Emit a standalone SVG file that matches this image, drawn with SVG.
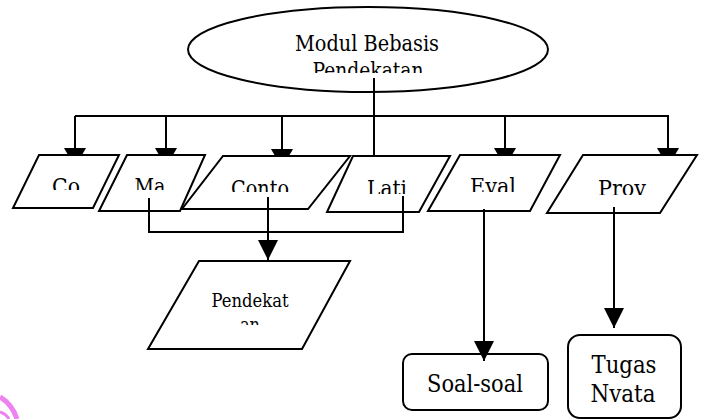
<svg xmlns="http://www.w3.org/2000/svg" width="705" height="419" viewBox="0 0 705 419">
<style>
.shape{fill:#fff;stroke:#000;stroke-width:2}
.t{font-family:'DejaVu Serif','Liberation Serif','Times New Roman',serif;fill:#000;text-anchor:middle}
.m{font-size:22px}
.c{fill:none;stroke:#000;stroke-width:2}
</style>
<defs>
<marker id="arr" markerUnits="userSpaceOnUse" markerWidth="22" markerHeight="22" viewBox="0 -11 21 22" refX="20" refY="0" orient="auto">
<path d="M0,-10 L20,0 L0,10 z" fill="#000"/>
</marker>
<marker id="cut" markerUnits="userSpaceOnUse" markerWidth="10" markerHeight="24" viewBox="0 -12 8 24" refX="7" refY="0" orient="auto">
<path d="M0,-11 L7,-7 L7,7 L0,11 z" fill="#000"/>
</marker>
<clipPath id="k0"><rect x="180" y="0" width="380" height="73"/></clipPath>
<clipPath id="k1"><rect x="0" y="150" width="705" height="40"/></clipPath>
<clipPath id="k2"><rect x="0" y="150" width="705" height="42"/></clipPath>
<clipPath id="k3"><rect x="0" y="150" width="705" height="44"/></clipPath>
<clipPath id="k4"><rect x="0" y="150" width="705" height="45"/></clipPath>
<clipPath id="k5"><rect x="140" y="260" width="220" height="65"/></clipPath>
</defs>

<path d="M0,397 Q12,404 17,419" fill="none" stroke="#ee82ee" stroke-width="5"/>
<path d="M0,412 Q6,414 9,419" fill="none" stroke="#ee82ee" stroke-width="3"/>

<g id="modul">
<ellipse class="shape" cx="368" cy="49.5" rx="180" ry="42.5"/>
<g clip-path="url(#k0)">
<text class="t m" x="367" y="51" textLength="144" lengthAdjust="spacingAndGlyphs">Modul Bebasis</text>
<text class="t m" x="368" y="78" textLength="111" lengthAdjust="spacingAndGlyphs">Pendekatan</text>
</g>
</g>

<g id="co">
<polygon class="shape" points="39,155 119,155 93,208 13,208"/>
<text class="t m" x="66" y="194" textLength="28" lengthAdjust="spacingAndGlyphs" clip-path="url(#k1)">Co</text>
</g>
<g id="ma">
<polygon class="shape" points="127,155 205,155 180,211 99,211"/>
<text class="t m" x="150" y="194" textLength="31" lengthAdjust="spacingAndGlyphs" clip-path="url(#k1)">Ma</text>
</g>
<g id="conto">
<polygon class="shape" points="223,156 350,156 308,209 182,209"/>
<text class="t m" x="260" y="196" textLength="58" lengthAdjust="spacingAndGlyphs" clip-path="url(#k2)">Conto</text>
</g>
<g id="lati">
<polygon class="shape" points="353,156 450,156 419,212 327,212"/>
<text class="t m" x="387" y="196" textLength="40" lengthAdjust="spacingAndGlyphs" clip-path="url(#k3)">Lati</text>
</g>
<g id="eval">
<polygon class="shape" points="460,155 560,155 530,211 428,211"/>
<text class="t m" x="493" y="194" textLength="46" lengthAdjust="spacingAndGlyphs" clip-path="url(#k2)">Eval</text>
</g>
<g id="prov">
<polygon class="shape" points="583,155 697,155 660,213 547,213"/>
<text class="t m" x="622" y="196" textLength="48" lengthAdjust="spacingAndGlyphs" clip-path="url(#k4)">Prov</text>
</g>
<g id="pendekatan">
<polygon class="shape" points="199,261 350,261 302,349 148,349"/>
<g clip-path="url(#k5)">
<text class="t" font-size="18.5" x="250" y="307" textLength="77" lengthAdjust="spacingAndGlyphs">Pendekat</text>
<text class="t" font-size="18.5" x="250" y="331" textLength="20" lengthAdjust="spacingAndGlyphs">an</text>
</g>
</g>
<g id="soal">
<rect class="shape" x="403" y="354" width="145" height="56" rx="9"/>
<text class="t" font-size="24.5" x="475" y="392" textLength="96" lengthAdjust="spacingAndGlyphs">Soal-soal</text>
</g>
<g id="tugas">
<rect class="shape" x="568" y="335" width="113" height="83" rx="12"/>
<text class="t" font-size="24.5" x="624" y="373" textLength="65" lengthAdjust="spacingAndGlyphs">Tugas</text>
<text class="t" font-size="24.5" x="623" y="402" textLength="65" lengthAdjust="spacingAndGlyphs">Nvata</text>
</g>

<g id="connectors">
<path class="c" d="M374,78 V155"/>
<path class="c" d="M75,116 H669"/>
<path class="c" d="M75,116 V155" marker-end="url(#cut)"/>
<path class="c" d="M166,116 V155" marker-end="url(#cut)"/>
<path class="c" d="M282,116 V156" marker-end="url(#cut)"/>
<path class="c" d="M505,116 V155" marker-end="url(#cut)"/>
<path class="c" d="M668,116 V155" marker-end="url(#cut)"/>
<path class="c" d="M149,198 V232 H403 V196"/>
<path class="c" d="M268,197 V260" marker-end="url(#arr)"/>
<path class="c" d="M484,209 V361" marker-end="url(#arr)"/>
<path class="c" d="M614,207 V328" marker-end="url(#arr)"/>
</g>
</svg>
